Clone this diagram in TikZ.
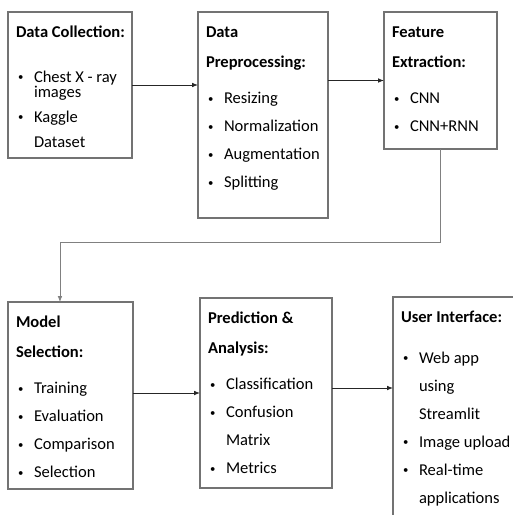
\documentclass[tikz,border=0pt]{standalone}
\usepackage{fontspec}
\setmainfont{Carlito}
\usepackage{tikz}
\usetikzlibrary{positioning,arrows.meta}

\newcommand{\stagefont}{\fontsize{12.4pt}{21pt}\selectfont}
\newcommand{\bul}{\makebox[13.5pt][l]{\hspace{1.5pt}\raisebox{0.8pt}{\scalebox{0.65}{\textbullet}}}}
\newcommand{\hang}{\hspace*{13.5pt}}
\newcommand{\stagetext}[3]{\parbox[t][#2][t]{#1}{\raggedright\leftskip=6pt\hyphenpenalty=10000\rule{0pt}{18.75pt}#3}}

\tikzset{
  stage/.style={draw=black!55, line width=0.8pt, inner sep=0pt, outer sep=0pt, font=\stagefont},
  flow/.style={draw=black!85, line width=0.6pt, -{Latex[length=4.5pt,width=3.5pt]}},
  elbow/.style={flow, draw=black!50}
}

\begin{document}
\begin{tikzpicture}
        \useasboundingbox (0,0) rectangle (384.75pt,-386.25pt);
        \clip (0,0) rectangle (384.75pt,-386.25pt);

        % Top row
        \node [stage, anchor=north west] (collect) at (6pt,-9pt)
          {\stagetext{93pt}{109.5pt}{\textbf{Data Collection:}\\[12.75pt]\bul Chest X - ray\\[-9.75pt]\hang images\\[-2.25pt]\bul Kaggle\\[-2.25pt]\hang Dataset}};
        \node [stage, right=49.5pt of collect.north east, anchor=north west] (prep)
          {\stagetext{97.5pt}{154.5pt}{\textbf{Data}\\[1.5pt]\textbf{Preprocessing:}\\[6.4pt]\bul Resizing\\\bul Normalization\\\bul Augmentation\\\bul Splitting}};
        \node [stage, right=42pt of prep.north east, anchor=north west] (feature)
          {\stagetext{84.75pt}{102.75pt}{\textbf{Feature}\\[1.5pt]\textbf{Extraction:}\\[6.4pt]\bul CNN\\\bul CNN+RNN}};

        % Bottom row
        \node [stage, below=108pt of collect.south west, anchor=north west] (model)
          {\stagetext{93.75pt}{140.25pt}{\textbf{Model}\\[1.5pt]\textbf{Selection:}\\[6.4pt]\bul Training\\\bul Evaluation\\\bul Comparison\\\bul Selection}};
        \node [stage, right=50.25pt of model.north east, anchor=north west, yshift=3pt] (predict)
          {\stagetext{99pt}{142.5pt}{\textbf{Prediction \&}\\[1.5pt]\textbf{Analysis:}\\[6.4pt]\bul Classification\\\bul Confusion\\\hang Matrix\\\bul Metrics}};
        \node [stage, right=45.75pt of predict.north east, anchor=north west, yshift=0.75pt] (ui)
          {\stagetext{105pt}{180pt}{\textbf{User Interface:}\\[9.75pt]\bul Web app\\\hang using\\\hang Streamlit\\\bul Image upload\\\bul Real-time\\\hang applications}};

        % Arrows
        \draw [flow] (collect.east) -- (collect.east -| prep.west);
        \draw [flow] (feature.west -| prep.east) -- (feature.west);
        \draw [elbow] (feature.south) -- ++(0,-69.75pt) -| ([xshift=-7.9pt]model.north);
        \draw [flow] (model.east |- predict.east) -- (predict.west |- predict.east) ;
        \draw [flow] ([yshift=3.75pt]predict.east) -- ([yshift=3.75pt]predict.east -| ui.west);
    \end{tikzpicture}
\end{document}
